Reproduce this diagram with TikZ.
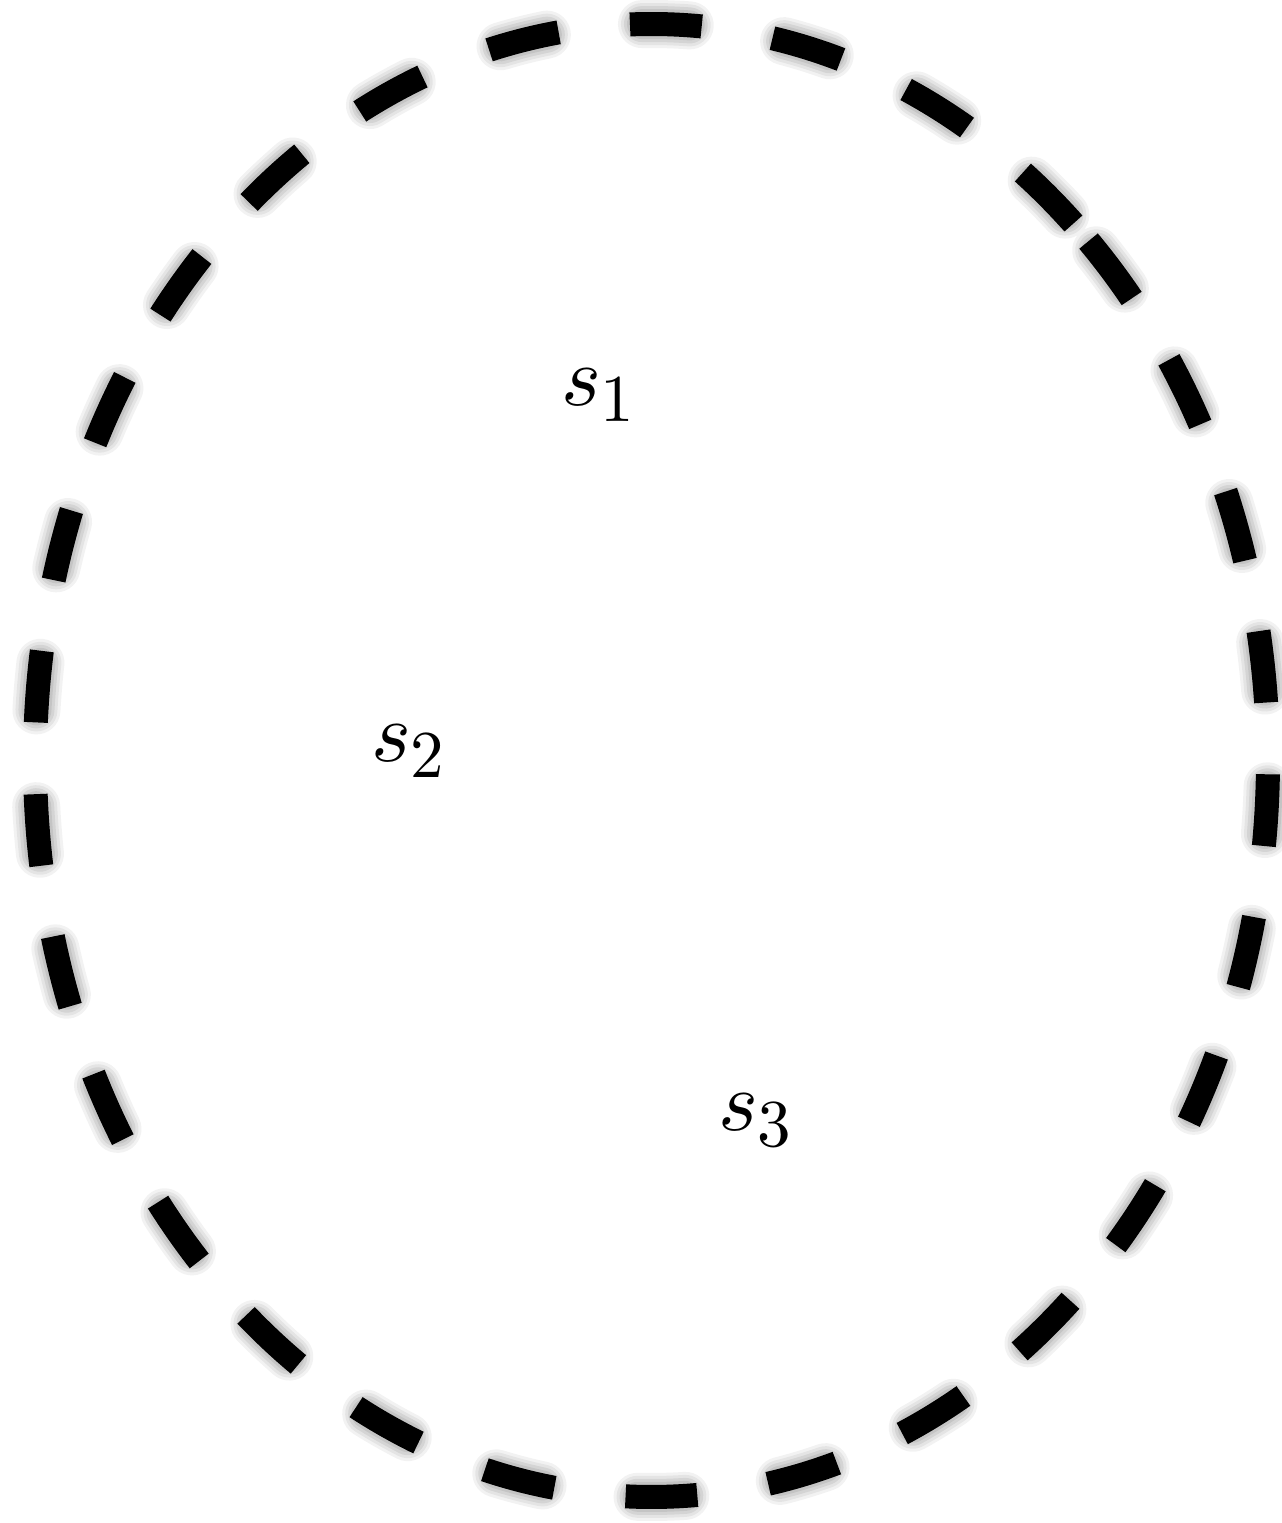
\documentclass[tikz,border=0pt]{standalone}
\usepackage{graphicx}
\tikzset{
  ringline/.style={line width=24pt, line cap=butt, dash pattern=on 71.8pt off 71.8pt, black},
  ringshadow/.style={line cap=round, dash pattern=on 47.8pt off 95.8pt, dash phase=131.6pt, black},
  lab/.style={inner sep=0pt, anchor=base west}
}
\newcommand{\slab}[1]{\scalebox{8.5}{$s$}\kern-1pt\raisebox{-16pt}{\scalebox{6.7}{#1}}}
\begin{document}
\begin{tikzpicture}[x=1pt,y=1pt]
\useasboundingbox (0,0) rectangle (1282,1523);
\coordinate (c) at (651.5,762.5);
\path (c) ++(44.85:616.5 and 736.5) coordinate (st);
\foreach \s/\o in {0/0.08,3/0.07,6/0.07,9/0.06,12/0.05}{
  \draw[ringshadow, line width={24+2*\s}, opacity=\o, yshift=-13pt]
    (st) arc[start angle=44.85, end angle=-315.15, x radius=616.5, y radius=736.5];
}
\draw[ringline] (st) arc[start angle=44.85, end angle=-315.15, x radius=616.5, y radius=736.5];
\node[lab] (s1) at (561,1117) {\slab{1}};
\node[lab] (s2) at (371,761) {\slab{2}};
\node[lab] (s3) at (718,392) {\slab{3}};
\end{tikzpicture}
\end{document}
